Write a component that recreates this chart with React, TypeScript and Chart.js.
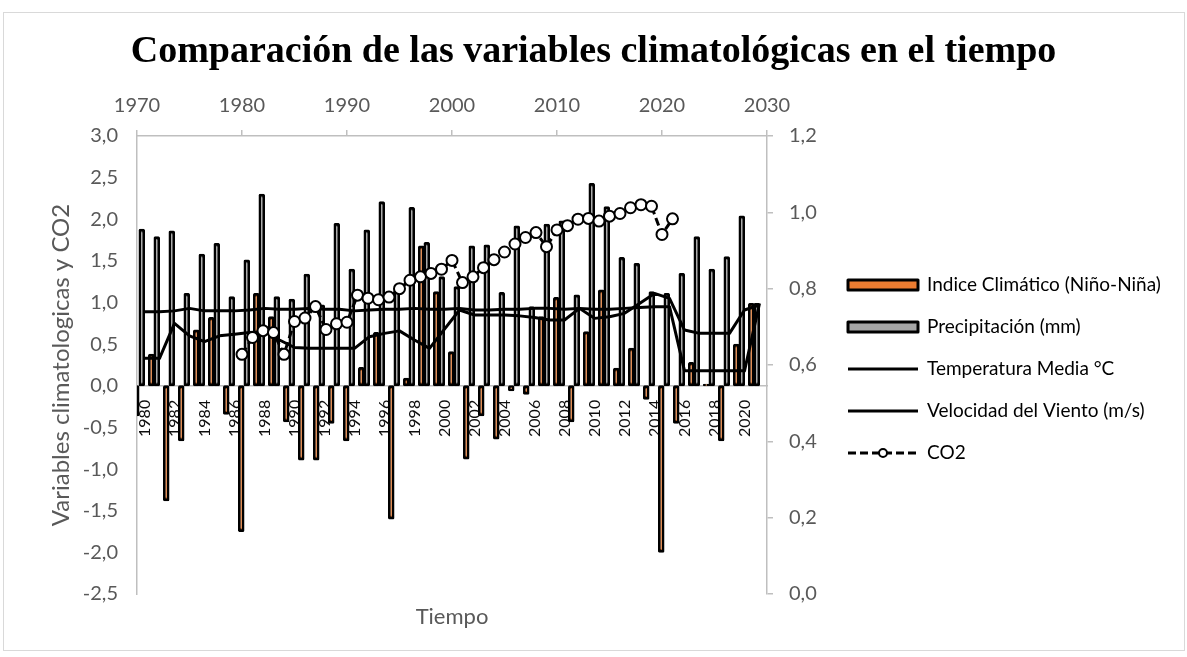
import React, { useEffect, useRef } from 'react';
import { Chart, registerables } from 'chart.js';

Chart.register(...registerables);

// ---- Data ----
const years = [
  '1980', '1981', '1982', '1983', '1984', '1985', '1986', '1987', '1988', '1989',
  '1990', '1991', '1992', '1993', '1994', '1995', '1996', '1997', '1998', '1999',
  '2000', '2001', '2002', '2003', '2004', '2005', '2006', '2007', '2008', '2009',
  '2010', '2011', '2012', '2013', '2014', '2015', '2016', '2017', '2018', '2019',
  '2020', '2021',
];

const indiceClimatico = [
  -0.36, 0.38, -1.38, -0.66, 0.67, 0.82, -0.34, -1.75, 1.11, 0.83,
  -0.43, -0.89, -0.89, -0.45, -0.66, 0.22, 0.64, -1.6, 0.09, 1.68,
  1.13, 0.41, -0.88, -0.36, -0.64, -0.06, -0.1, 0.83, 1.06, -0.43,
  0.65, 1.15, 0.21, 0.45, -0.16, -2.0, -0.45, 0.28, 0.02, -0.66,
  0.5, 0.99,
];

const precipitacion = [
  1.88, 1.79, 1.86, 1.11, 1.58, 1.71, 1.07, 1.51, 2.3, 1.07,
  1.04, 1.34, 0.97, 1.95, 1.4, 1.87, 2.21, 1.17, 2.14, 1.72,
  1.31, 1.19, 1.68, 1.69, 1.12, 1.92, 0.95, 1.94, 1.98, 1.09,
  2.43, 2.15, 1.54, 1.47, 1.13, 1.11, 1.35, 1.79, 1.4, 1.55,
  2.04, 0.99,
];

const temperaturaMedia = [
  0.89, 0.89, 0.9, 0.93, 0.9, 0.9, 0.9, 0.91, 0.93, 0.92,
  0.92, 0.93, 0.92, 0.92, 0.9, 0.91, 0.92, 0.92, 0.93, 0.92,
  0.92, 0.93, 0.91, 0.91, 0.92, 0.92, 0.93, 0.93, 0.92, 0.93,
  0.92, 0.92, 0.93, 0.94, 0.95, 0.95, 0.18, 0.18, 0.18, 0.18,
  0.18, 0.99,
];

const velocidadViento = [
  0.33, 0.33, 0.75, 0.6, 0.53, 0.6, 0.62, 0.64, 0.65, 0.55,
  0.46, 0.45, 0.45, 0.45, 0.45, 0.59, 0.63, 0.66, 0.55, 0.45,
  0.68, 0.91, 0.85, 0.85, 0.85, 0.84, 0.82, 0.79, 0.79, 0.93,
  0.81, 0.83, 0.87, 0.99, 1.11, 1.05, 0.67, 0.63, 0.63, 0.63,
  0.91, 0.97,
];

const co2Years = [
  1980, 1981, 1982, 1983, 1984, 1985, 1986, 1987, 1988, 1989,
  1990, 1991, 1992, 1993, 1994, 1995, 1996, 1997, 1998, 1999,
  2000, 2001, 2002, 2003, 2004, 2005, 2006, 2007, 2008, 2009,
  2010, 2011, 2012, 2013, 2014, 2015, 2016, 2017, 2018, 2019,
  2020, 2021,
];

const co2 = [
  0.628, 0.672, 0.69, 0.685, 0.628, 0.714, 0.723, 0.753, 0.693, 0.708,
  0.712, 0.783, 0.775, 0.771, 0.778, 0.8, 0.822, 0.831, 0.84, 0.851,
  0.874, 0.816, 0.831, 0.855, 0.876, 0.896, 0.917, 0.934, 0.947, 0.91,
  0.954, 0.965, 0.982, 0.984, 0.977, 0.99, 0.997, 1.012, 1.02, 1.016,
  0.942, 0.983,
];

const titleText = 'Comparación de las variables climatológicas en el tiempo';
const yTitle = 'Variables climatologicas y CO2';
const xTitle = 'Tiempo';
const seriesNames = [
  'Indice Climático (Niño-Niña)',
  'Precipitación (mm)',
  'Temperatura Media °C',
  'Velocidad del Viento (m/s)',
  'CO2',
];

// ---- Styling ----
const AXIS = '#BFBFBF';
const TICK = '#595959';
const FONT = 'Lato';
const W = 1187;
const H = 657;
const AREA = { left: 137, right: 767, top: 136, bottom: 594 };

const fmt = (v: number) => {
  const n = Math.abs(v) < 1e-9 ? 0 : v;
  return n.toFixed(1).replace('.', ',');
};

const framePlugin = {
  id: 'frame',
  beforeDraw(chart: any) {
    const ctx = chart.ctx;
    ctx.save();
    ctx.fillStyle = '#fff';
    ctx.fillRect(0, 0, W, H);
    ctx.strokeStyle = '#D9D9D9';
    ctx.lineWidth = 1;
    ctx.strokeRect(3.5, 12.5, W - 6, H - 19);
    ctx.restore();
  },
};

const legendPlugin = {
  id: 'excelLegend',
  afterDraw(chart: any) {
    const ctx = chart.ctx;
    const x0 = 848;
    const w = 70;
    const tx = 927;
    const y0 = 285;
    const dy = 42;
    ctx.save();
    chart.data.datasets.forEach((ds: any, i: number) => {
      const y = y0 + i * dy;
      if (ds.type === 'bar') {
        ctx.fillStyle = ds.backgroundColor;
        ctx.fillRect(x0, y - 5, w, 10);
        ctx.lineWidth = 3;
        ctx.strokeStyle = '#000';
        ctx.lineJoin = 'round';
        ctx.strokeRect(x0, y - 5, w, 10);
      } else {
        ctx.strokeStyle = '#000';
        ctx.lineWidth = 3;
        ctx.setLineDash(ds.borderDash || []);
        ctx.beginPath();
        ctx.moveTo(x0, y);
        ctx.lineTo(x0 + w, y);
        ctx.stroke();
        ctx.setLineDash([]);
        if (ds.pointRadius > 0) {
          ctx.beginPath();
          ctx.arc(x0 + w / 2, y, 4, 0, Math.PI * 2);
          ctx.fillStyle = '#fff';
          ctx.fill();
          ctx.lineWidth = 2;
          ctx.stroke();
        }
      }
      ctx.fillStyle = '#000';
      ctx.font = `19px ${FONT}`;
      ctx.textBaseline = 'middle';
      ctx.textAlign = 'left';
      ctx.fillText(ds.label, tx, y);
    });
    ctx.restore();
  },
};

export default function App() {
  const ref = useRef<HTMLCanvasElement>(null);

  useEffect(() => {
    const canvas = ref.current;
    if (!canvas) return;
    const titlePadTop = 29;
    const titleFontSize = 38;
    const titleHeight = titlePadTop + titleFontSize * 1.2;
    const barCommon = {
      type: 'bar',
      borderColor: '#000',
      borderWidth: 2.75,
      borderSkipped: false,
      borderRadius: 1.5,
      barThickness: 5.5,
      inflateAmount: 0.5,
      xAxisID: 'x',
      yAxisID: 'y',
      order: 2,
    };
    const lineCommon = {
      type: 'line',
      borderColor: '#000',
      borderWidth: 3,
      pointRadius: 0,
      tension: 0,
      borderJoinStyle: 'round',
      xAxisID: 'x',
      yAxisID: 'y',
      order: 1,
    };

    const chart = new Chart(canvas, {
      type: 'bar',
      data: {
        labels: years,
        datasets: [
          { ...barCommon, label: seriesNames[0], data: indiceClimatico, backgroundColor: '#ED7D31' },
          { ...barCommon, label: seriesNames[1], data: precipitacion, backgroundColor: '#A5A5A5' },
          { ...lineCommon, label: seriesNames[2], data: temperaturaMedia },
          { ...lineCommon, label: seriesNames[3], data: velocidadViento },
          {
            type: 'line',
            label: seriesNames[4],
            data: co2Years.map((yr, i) => ({ x: yr, y: co2[i] })),
            borderColor: '#000',
            borderWidth: 3,
            borderDash: [8, 4],
            pointRadius: 5.5,
            pointBorderWidth: 2,
            pointBackgroundColor: '#fff',
            pointBorderColor: '#000',
            tension: 0,
            xAxisID: 'x2',
            yAxisID: 'y2',
            order: 0,
          },
        ] as any,
      },
      options: {
        responsive: false,
        animation: false,
        devicePixelRatio: 1,
        layout: { padding: 0 },
        plugins: {
          legend: { display: false },
          tooltip: { enabled: false },
          title: {
            display: true,
            text: titleText,
            color: '#000',
            font: { family: 'Liberation Serif', size: titleFontSize, weight: 'bold' },
            padding: { top: titlePadTop, bottom: 0 },
          },
          subtitle: {
            display: true,
            position: 'bottom',
            fullSize: false,
            text: xTitle,
            color: TICK,
            font: { family: FONT, size: 22 },
            padding: { top: 10, bottom: H - AREA.bottom - 10 - 22 * 1.2 },
          },
        },
        scales: {
          x: {
            type: 'category',
            position: { y: 0 } as any,
            offset: true,
            grid: { display: false, drawTicks: false },
            border: { display: true, color: AXIS, width: 1.5 },
            ticks: {
              autoSkip: false,
              maxRotation: 90,
              minRotation: 90,
              padding: 14,
              color: '#0d0d0d',
              font: { family: FONT, size: 16 },
              callback: function (this: any, value: any, index: number) {
                return index % 2 === 0 ? this.getLabelForValue(value) : '';
              },
            },
            afterFit: (s: any) => {
              s.height = 0;
            },
          },
          x2: {
            type: 'linear',
            position: 'top',
            offset: false,
            min: 1970,
            max: 2030,
            grid: {
              display: true, offset: false, drawOnChartArea: false, drawTicks: true,
              tickLength: 6, color: AXIS, lineWidth: 1.5,
            },
            border: { display: true, color: AXIS, width: 1.5 },
            ticks: {
              stepSize: 10,
              color: TICK,
              padding: 12,
              font: { family: FONT, size: 20 },
              callback: (v: any) => String(v),
            },
            afterFit: (s: any) => {
              s.height = AREA.top - titleHeight;
            },
          },
          y: {
            type: 'linear',
            position: 'left',
            min: -2.5,
            max: 3,
            grid: { display: false, drawTicks: false },
            border: { display: true, color: AXIS, width: 1.5 },
            ticks: {
              stepSize: 0.5,
              color: TICK,
              padding: 19,
              font: { family: FONT, size: 20 },
              callback: (v: any) => fmt(Number(v)),
            },
            title: {
              display: true,
              text: yTitle,
              color: TICK,
              font: { family: FONT, size: 24 },
              padding: { top: 47, bottom: 0 },
            },
            afterFit: (s: any) => {
              s.width = AREA.left;
            },
          },
          y2: {
            type: 'linear',
            position: 'right',
            min: 0,
            max: 1.2,
            grid: {
              display: true, drawOnChartArea: false, drawTicks: true,
              tickLength: 6, color: AXIS, lineWidth: 1.5,
            },
            border: { display: true, color: AXIS, width: 1.5 },
            ticks: {
              stepSize: 0.2,
              color: TICK,
              padding: 16,
              font: { family: FONT, size: 20 },
              callback: (v: any) => fmt(Number(v)),
            },
            afterFit: (s: any) => {
              s.width = W - AREA.right;
            },
          },
        },
      } as any,
      plugins: [framePlugin, legendPlugin],
    });
    return () => chart.destroy();
  }, []);

  return (
    <div style={{ position: 'fixed', left: 0, top: 0, width: W, height: H, background: '#fff' }}>
      <canvas ref={ref} width={W} height={H} style={{ display: 'block', width: W, height: H }} />
    </div>
  );
}
